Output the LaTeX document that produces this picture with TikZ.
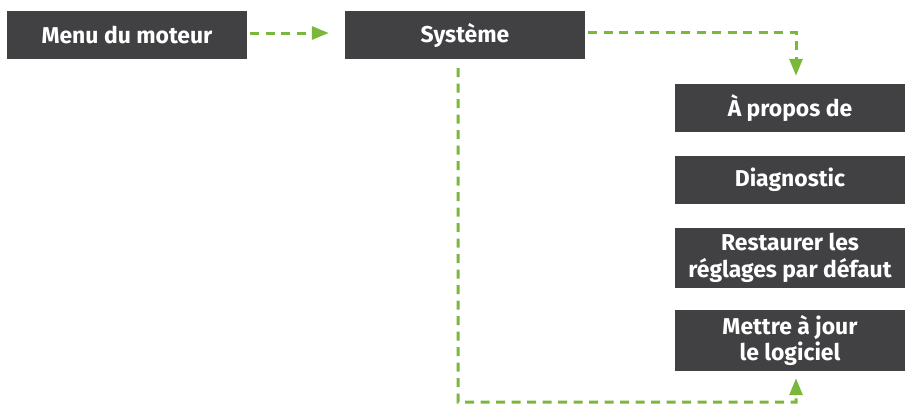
\documentclass[tikz,border=0pt]{standalone}
\usepackage{fontspec}
\setmainfont{Fira Sans}
\usetikzlibrary{arrows.meta}
\definecolor{boxgray}{HTML}{414143}
\definecolor{linkgreen}{HTML}{7AB83C}
\tikzset{
	box/.style={fill=boxgray, text=white, font=\bfseries\fontsize{23}{27}\selectfont, align=center, inner sep=0pt},
	link/.style={draw=linkgreen, line width=3bp, dash pattern=on 9bp off 6.5bp, -{Triangle[length=17bp, width=13bp]}}
}

\begin{document}
\begin{tikzpicture}[x=1bp, y=-1bp]
	\useasboundingbox (0, 0) rectangle (906, 404);
	\node [box, minimum width=240bp, minimum height=48bp] (menu) at (127, 35) {Menu du moteur};
	\node [box, minimum width=240bp, minimum height=48bp] (systeme) at (465, 35) {Système};
	\node [box, minimum width=230bp, minimum height=48bp] (apropos) at (790, 108) {À propos de};
	\node [box, minimum width=230bp, minimum height=48bp] (diag) at (790, 180) {Diagnostic};
	\node [box, minimum width=230bp, minimum height=60bp] (restaurer) at (790, 258) {Restaurer les\\réglages par défaut};
	\node [box, minimum width=230bp, minimum height=61bp] (maj) at (790, 340.5) {Mettre à jour\\le logiciel};
	\coordinate (corner) at (458, 402);
	\draw [link, shorten <=3bp, shorten >=16bp] (menu.east |- 0, 33) -- (systeme.west |- 0, 33);
	\draw [link, shorten <=3bp, shorten >=8bp] (systeme.east |- 0, 32) -| ([xshift=6bp]apropos.north);
	\draw [link, shorten >=7bp] ([xshift=-7bp, yshift=-9bp]systeme.south) -- (corner) -| ([xshift=6bp]maj.south);
\end{tikzpicture}
\end{document}
